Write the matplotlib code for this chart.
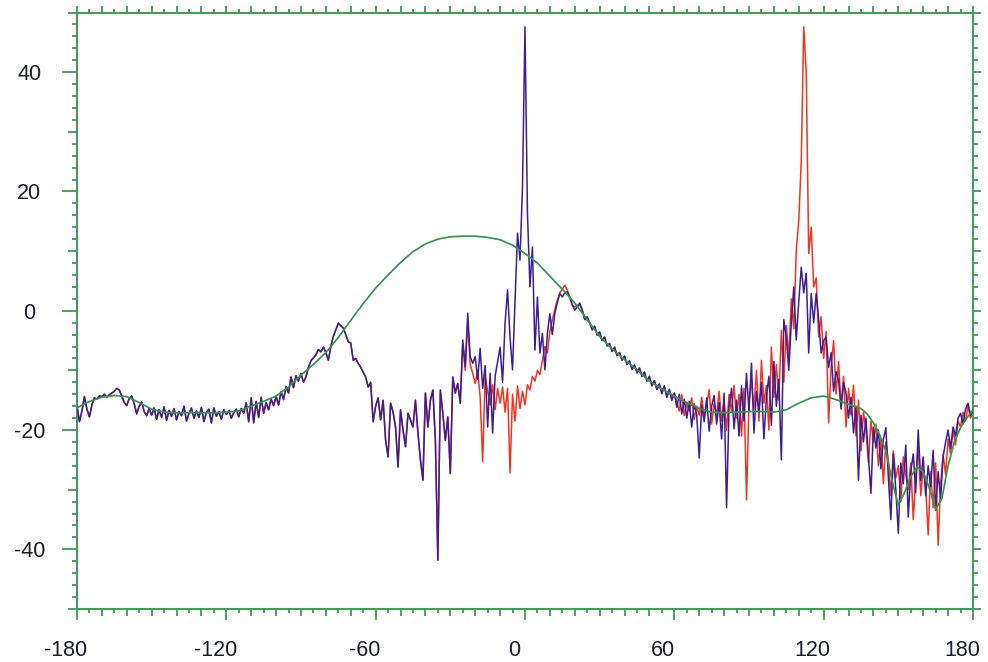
import numpy as np
import matplotlib
matplotlib.use("Agg")
import matplotlib.pyplot as plt
import matplotlib.transforms as mtrans
from matplotlib.ticker import MultipleLocator, FuncFormatter

# angle grid (deg), one sample per degree
angle = np.arange(-180, 181)

# -180 .. -31 : red and blue lie on top of each other
left_shared = [
    -16.0, -18.6, -16.8, -14.4, -16.5, -17.8, -15.8, -14.6, -14.8, -14.3,
    -14.4, -14.0, -14.5, -14.1, -13.8, -13.5, -13.0, -13.3, -14.3, -15.4,
    -15.9, -14.7, -14.3, -15.6, -17.3, -16.0, -15.3, -16.9, -17.6, -16.4,
    -17.5, -16.3, -18.2, -16.6, -17.9, -16.1, -18.4, -16.7, -17.7, -16.4,
    -18.3, -16.9, -17.6, -16.0, -18.5, -17.2, -16.3, -18.0, -16.8, -17.9,
    -16.2, -18.6, -17.0, -16.5, -18.8, -16.3, -17.7, -16.9, -18.2, -16.6,
    -17.4, -16.7, -18.0, -17.1, -16.5, -17.8, -16.4, -17.2, -15.4, -18.6,
    -14.6, -18.8, -15.2, -17.9, -14.5, -17.2, -15.4, -16.6, -14.8, -15.9,
    -14.4, -15.8, -13.6, -14.9, -12.7, -13.8, -11.1, -12.9, -10.9, -11.8,
    -10.5, -12.0, -11.1, -9.5, -8.4, -7.9, -7.4, -6.5, -6.9, -6.1,
    -7.0, -8.3, -6.0, -4.3, -3.2, -2.1, -2.5, -2.9, -4.0, -5.2,
    -5.4, -8.3, -8.0, -8.8, -9.5, -10.3, -11.1, -12.8, -12.0, -18.6,
    -16.0, -14.6, -18.3, -15.0, -21.7, -24.5, -15.5, -17.0, -19.5, -26.2,
    -16.6, -20.0, -22.8, -17.2, -18.3, -19.5, -15.0, -20.5, -25.0, -28.4,
    -13.8, -19.5, -15.0, -13.3, -21.7, -41.8, -13.3, -17.2, -21.7, -17.8,
]

# -30 .. 25
mid_blue = [
    -27.3, -11.1, -13.8, -12.2, -15.5, -4.9, -9.4, -0.4, -7.7, -8.8,
    -7.7, -11.5, -6.3, -13.0, -9.2, -19.5, -10.5, -20.5, -11.0, -8.5,
    -6.1, -12.0, -2.1, 3.5, -4.5, -9.9, 1.8, 13.0, 8.5, 20.7,
    47.6, 16.3, 4.0, 10.7, -6.6, 2.3, -7.1, -3.8, -9.9, -3.8,
    -0.5, -4.0, -0.4, 1.3, 2.9, 2.3, 3.0, 3.2, 2.3, 1.0,
    0.1, 0.6, 1.3, 0.2, -1.5, -1.0,
]
mid_red = [
    -27.3, -11.1, -13.8, -12.2, -15.5, -5.5, -10.0, -2.0, -9.0, -10.5,
    -12.2, -10.0, -14.5, -25.3, -11.0, -13.5, -15.8, -12.4, -16.6, -13.0,
    -15.5, -12.8, -17.0, -13.0, -27.2, -14.0, -18.5, -12.6, -16.4, -13.5,
    -15.8, -12.4, -13.3, -11.0, -11.8, -10.0, -10.7, -8.3, -6.0, -7.1,
    -3.5, -1.5, 0.2, 1.8, 3.0, 3.6, 4.3, 3.5, 2.2, 0.9,
    0.6, 0.9, 1.0, 0.0, -1.2, -1.6,
]

# 26 .. 60 : shared again
right_shared = [
    -2.0, -3.2, -2.6, -4.1, -3.6, -5.0, -4.4, -5.9, -5.5, -6.8,
    -6.1, -7.5, -7.0, -8.3, -7.6, -9.0, -8.4, -9.8, -9.1, -10.4,
    -9.6, -11.0, -10.3, -11.8, -11.0, -12.6, -11.7, -13.2, -12.3, -13.9,
    -12.6, -14.5, -13.2, -15.0, -13.8,
]

# 61 .. 180
tail_blue = [
    -16.2, -14.0, -17.3, -14.8, -18.0, -15.2, -19.5, -15.6, -17.4, -24.7,
    -15.8, -18.6, -14.6, -20.2, -16.0, -14.2, -19.0, -15.4, -21.5, -13.8,
    -33.0, -16.2, -13.0, -19.8, -15.0, -21.0, -12.6, -18.5, -10.5, -16.8,
    -8.8, -20.5, -13.5, -17.0, -12.0, -21.5, -14.5, -11.0, -19.2, -8.5,
    -16.0, -11.5, -25.0, -1.5, -4.4, -10.0, -2.0, 4.0, -4.9, 1.5,
    7.3, 3.0, 6.3, -7.1, 2.9, -2.0, 2.9, -1.5, -7.1, -5.0,
    -4.4, -9.5, -7.0, -13.5, -10.2, -11.6, -16.5, -12.0, -13.8, -18.0,
    -14.5, -20.5, -16.0, -28.4, -17.5, -22.0, -18.0, -24.5, -30.6, -19.5,
    -23.0, -20.0, -26.5, -21.5, -19.6, -28.0, -35.0, -24.0, -30.0, -37.3,
    -25.5, -29.0, -22.5, -34.6, -27.0, -24.0, -30.5, -20.0, -28.5, -24.5,
    -31.0, -26.0, -29.5, -23.4, -33.5, -27.0, -31.5, -24.5, -22.0, -20.0,
    -23.0, -19.5, -21.0, -18.0, -17.2, -19.0, -16.5, -15.5, -17.5, -16.8,
]
tail_red = [
    -15.2, -16.8, -14.0, -17.6, -15.5, -16.8, -14.6, -18.2, -16.0, -17.5,
    -14.5, -17.8, -15.8, -13.2, -19.0, -15.5, -17.5, -13.5, -18.5, -15.0,
    -20.0, -14.0, -17.0, -12.5, -18.0, -14.0, -21.0, -13.0, -31.7, -15.5,
    -11.5, -16.5, -10.0, -18.5, -8.3, -15.5, -12.5, -20.0, -6.1, -14.5,
    -9.0, -15.0, -3.3, -12.0, -2.5, -8.0, 2.0, -3.0, 10.2, 15.2,
    25.0, 47.6, 40.0, 9.6, 14.0, 4.0, 5.5, -4.4, -1.0, -8.0,
    -3.5, -18.8, -9.4, -5.0, -14.0, -8.5, -16.0, -11.0, -19.5, -13.0,
    -17.5, -12.5, -21.0, -15.0, -23.5, -17.0, -20.0, -25.5, -18.5, -22.0,
    -19.0, -26.0, -21.5, -29.0, -22.0, -25.0, -31.0, -23.5, -28.0, -26.0,
    -32.0, -24.5, -27.5, -30.0, -25.5, -35.0, -28.0, -23.0, -31.0, -26.5,
    -29.5, -37.6, -27.0, -33.0, -25.5, -39.3, -29.0, -24.0, -27.5, -21.5,
    -24.0, -20.0, -22.5, -18.5, -19.5, -17.0, -18.5, -16.0, -18.0, -17.0,
]

# smooth (green) curve, 5 deg steps then 2.5 deg near the double dip
green_x = np.concatenate([np.arange(-180, 135, 5), np.arange(135, 180.1, 2.5)])
green_y = [
    -16.3, -15.2, -14.5, -14.2, -14.4, -15.4, -16.5, -17.0, -17.1, -17.1,
    -17.1, -17.1, -17.0, -16.8, -16.0, -15.2, -14.3, -12.8, -10.8, -9.0,
    -7.0, -4.5, -1.6, 1.2, 3.8, 6.0, 8.1, 9.9, 11.2, 12.0,
    12.4, 12.5, 12.5, 12.3, 11.9, 11.0, 9.6, 8.0, 5.8, 3.6,
    1.3, -1.5, -4.3, -6.4, -8.2, -9.9, -11.8, -13.1, -14.3, -15.4,
    -16.4, -17.0, -17.1, -17.0, -16.9, -16.9, -17.0, -16.6, -15.5, -14.6,
    -14.3, -14.9, -15.7,
    -16.4, -17.3, -18.8, -20.8, -23.5, -28.5, -32.6, -30.5, -27.8, -26.2,
    -27.0, -29.8, -33.3, -31.5, -26.0, -22.0, -19.6, -18.0, -16.6,
]

red = np.array(left_shared + mid_red + right_shared + tail_red)
blue = np.array(left_shared + mid_blue + right_shared + tail_blue)

AXC = '#3a9d4f'
TXT = '#1c1c30'

plt.rcParams['font.family'] = ['Liberation Sans', 'DejaVu Sans']
fig = plt.figure(figsize=(9.88, 6.62), dpi=100)
ax = fig.add_axes([0.0779, 0.0801, 0.9069, 0.9010])

ax.plot(angle, red, color='#f5331f', lw=1.1, zorder=2)
ax.plot(angle, blue, color='#3a1f96', lw=1.1, zorder=3)
ax.plot(green_x, green_y, color='#2f9a48', lw=1.25, zorder=4)

ax.set_xlim(-180, 180)
ax.set_ylim(-50, 50)

for s in ax.spines.values():
    s.set_color(AXC)
    s.set_linewidth(1.4)

ax.xaxis.set_major_locator(MultipleLocator(10))
ax.xaxis.set_minor_locator(MultipleLocator(5))
ax.yaxis.set_major_locator(MultipleLocator(10))
ax.yaxis.set_minor_locator(MultipleLocator(2))
ax.xaxis.set_major_formatter(FuncFormatter(lambda v, p: f'{v:.0f}' if v % 60 == 0 else ''))
ax.yaxis.set_major_formatter(FuncFormatter(lambda v, p: f'{v:.0f}' if v % 20 == 0 else ''))

ax.tick_params(which='both', direction='out', color=AXC, width=1.3,
               top=True, right=True, labelsize=15.5, labelcolor=TXT)
ax.tick_params(axis='x', which='major', length=7.9, pad=14.5)
ax.tick_params(axis='y', which='major', length=10.8, pad=23.5)
ax.tick_params(axis='x', which='minor', length=2.9)
ax.tick_params(axis='y', which='minor', length=3.6)

# three tick lengths: labelled, every 10, minor
xl = ax.xaxis.get_majorticklocs()
for t, v in zip(ax.xaxis.get_major_ticks(len(xl)), xl):
    t.tick2line.set_markersize(5.0)
    if v % 60 != 0:
        t.tick1line.set_markersize(5.0)
yl = ax.yaxis.get_majorticklocs()
for t, v in zip(ax.yaxis.get_major_ticks(len(yl)), yl):
    t.tick2line.set_markersize(6.0)
    if v % 20 != 0:
        t.tick1line.set_markersize(6.5)

# labels sit a little left of their ticks in the original
shift = mtrans.ScaledTranslation(-8 / 72, 0, fig.dpi_scale_trans)
for lbl in ax.get_xticklabels():
    lbl.set_transform(lbl.get_transform() + shift)
for lbl in ax.get_yticklabels():
    lbl.set_horizontalalignment('center')

fig.savefig('out.png', dpi=100)
